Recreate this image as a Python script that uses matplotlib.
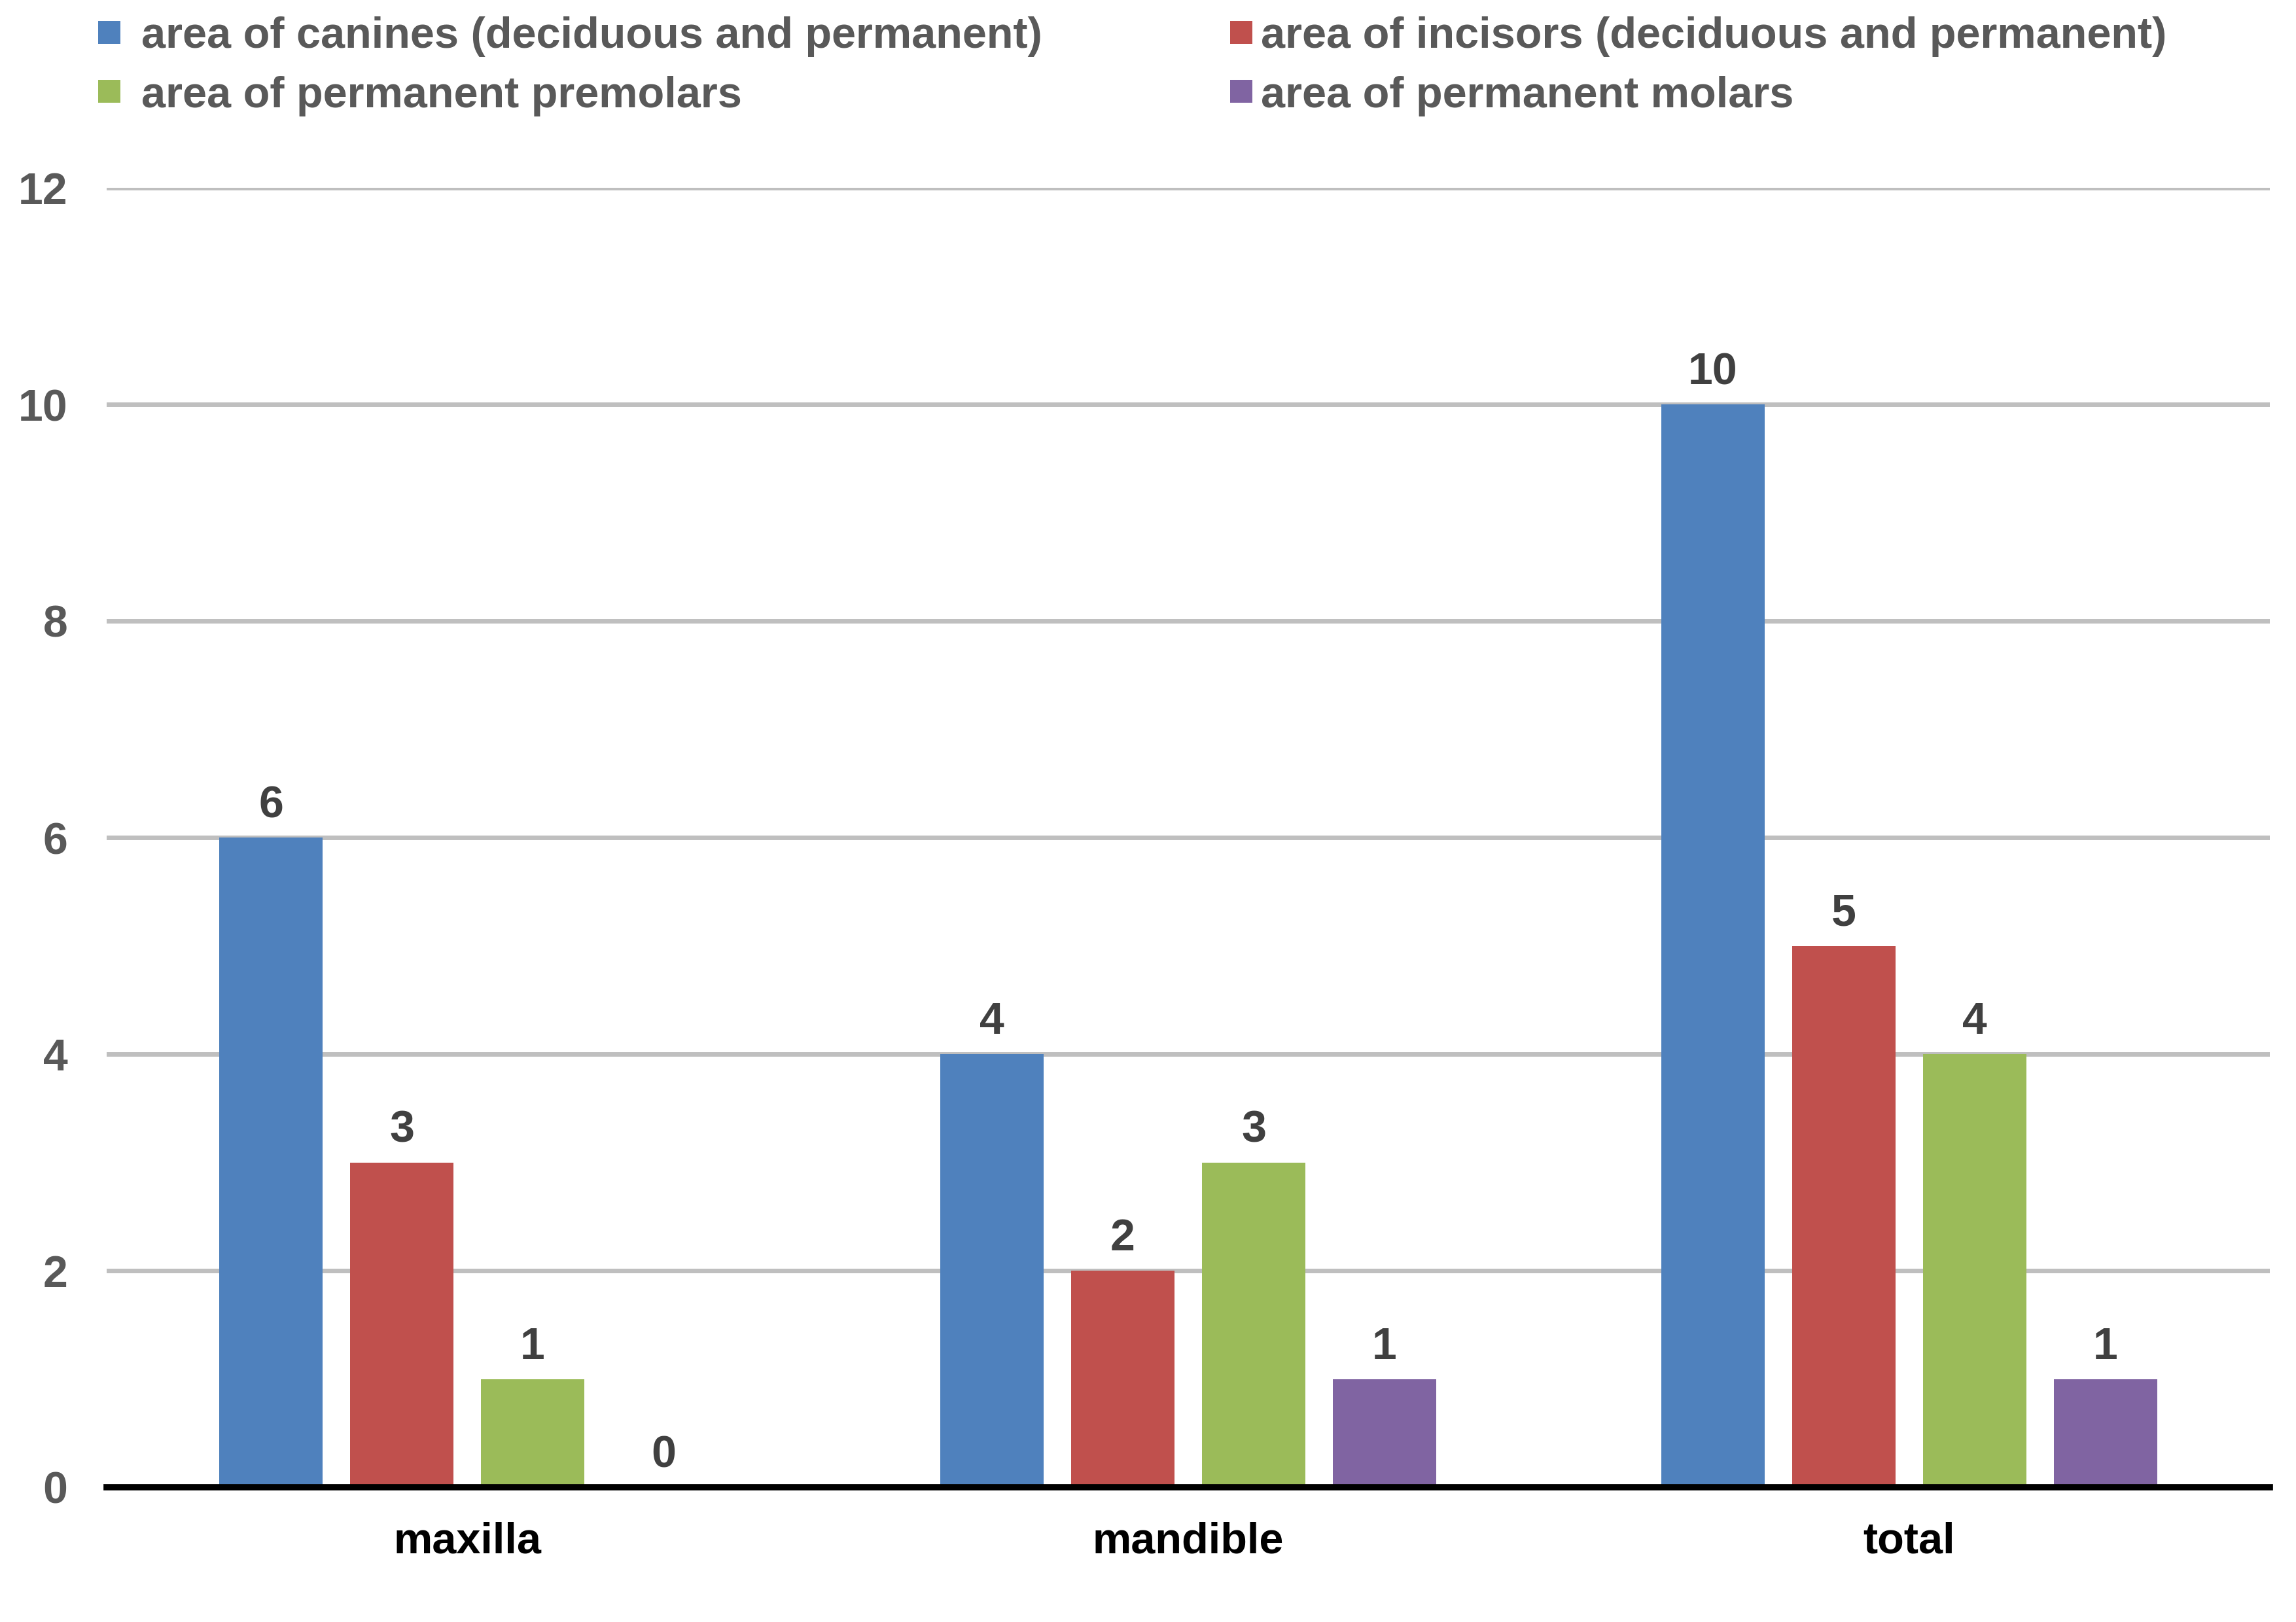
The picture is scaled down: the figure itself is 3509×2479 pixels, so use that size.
import matplotlib
matplotlib.use("Agg")
import matplotlib.pyplot as plt
from matplotlib.patches import Patch
import numpy as np

categories = ["maxilla", "mandible", "total"]
series_names = [
    "area of canines (deciduous and permanent)",
    "area of incisors (deciduous and permanent)",
    "area of permanent premolars",
    "area of permanent molars",
]
canines = [6, 4, 10]
incisors = [3, 2, 5]
premolars = [1, 3, 4]
molars = [0, 1, 1]
y_ticks = [0, 2, 4, 6, 8, 10, 12]

series_values = [canines, incisors, premolars, molars]
colors = ["#4F81BD", "#C0504D", "#9BBB59", "#8064A2"]

plt.rcParams['font.family'] = ['Liberation Sans', 'DejaVu Sans']
plt.rcParams['font.weight'] = 'bold'

W, H = 3509, 2479
fig = plt.figure(figsize=(W / 100, H / 100), dpi=100)
ax = fig.add_axes([163 / W, 1 - 2273 / H, (3469 - 163) / W, (2273 - 287) / H])

x = np.arange(len(categories))
step = 0.1815
width = 0.1434
for i, (name, vals, c) in enumerate(zip(series_names, series_values, colors)):
    xs = x + (i - 1.5) * step
    ax.bar(xs, vals, width=width, color=c, label=name, zorder=2)
    for xx, v in zip(xs, vals):
        ax.annotate(str(v), (xx, v), xytext=(0, 22), textcoords='offset points',
                    ha='center', va='baseline', fontsize=49, fontweight='bold',
                    color='#404040')

ax.set_xlim(-0.5, len(categories) - 0.5)
ax.set_ylim(0, 12)
ax.set_yticks(y_ticks)
ax.set_xticks(x)
ax.set_xticklabels(categories, fontsize=48, fontweight='bold', color='black')
ax.tick_params(axis='y', length=0, pad=43, labelsize=49, labelcolor='#595959')
ax.tick_params(axis='x', length=0, pad=38)
for lab in ax.get_yticklabels():
    lab.set_fontweight('bold')

ax.set_axisbelow(True)
ax.yaxis.grid(True, color='#BFBFBF', linewidth=5, zorder=0)
for s in ['left', 'right', 'top']:
    ax.spines[s].set_visible(False)
ax.spines['bottom'].set_color('black')
ax.spines['bottom'].set_linewidth(7)
ax.spines['bottom'].set_zorder(3)

handles = [Patch(facecolor=c, edgecolor='none') for c in colors]
leg_kw = dict(frameon=False, handlelength=0.51, handleheight=0.43,
              labelspacing=0.43, borderpad=0, borderaxespad=0,
              loc='upper left', labelcolor='#595959', prop={'weight': 'bold', 'size': 48})
leg1 = fig.legend([handles[0], handles[2]], [series_names[0], series_names[2]],
                  bbox_to_anchor=(150 / W, 1 - 25 / H), handletextpad=0.48, **leg_kw)
leg2 = fig.legend([handles[1], handles[3]], [series_names[1], series_names[3]],
                  bbox_to_anchor=(1880 / W, 1 - 25 / H), handletextpad=0.2, **leg_kw)

fig.savefig("out.png", dpi=100, facecolor='white')
